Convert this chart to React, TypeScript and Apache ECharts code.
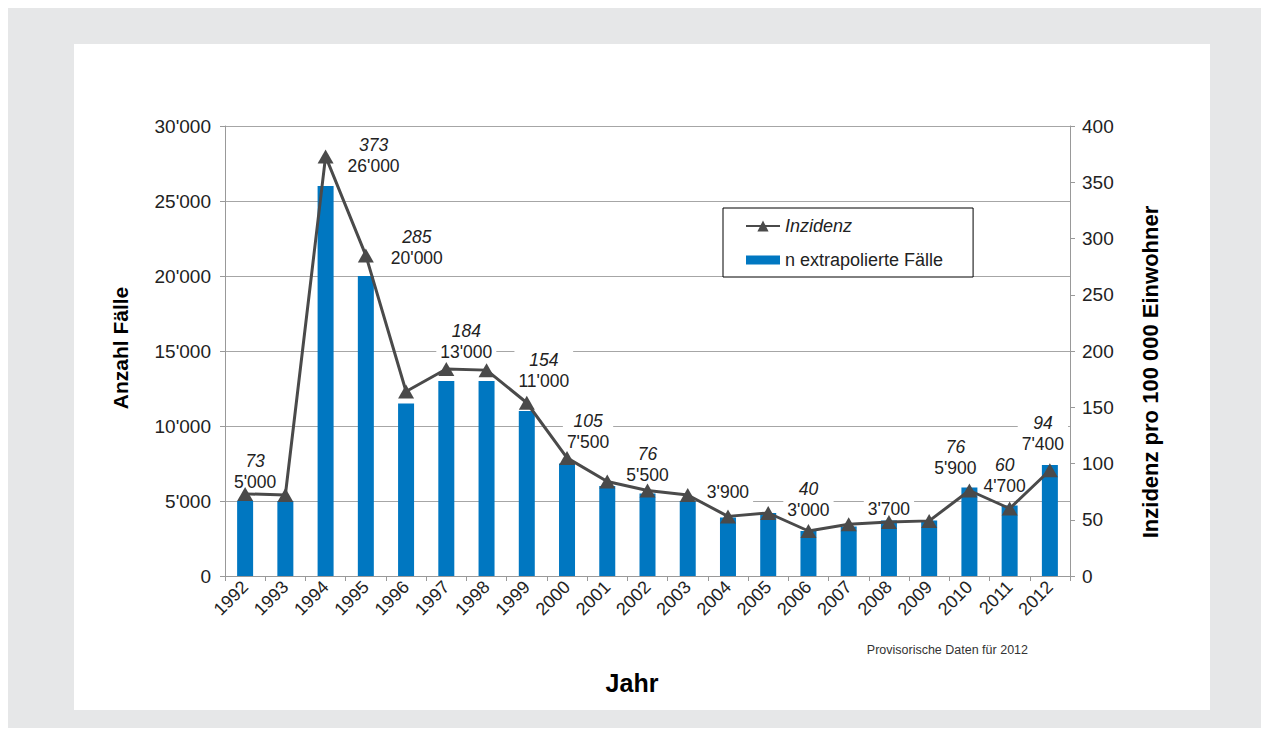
import React, { useEffect, useRef } from "react";
import * as echarts from "echarts";

const years = ["1992","1993","1994","1995","1996","1997","1998","1999","2000","2001","2002","2003","2004","2005","2006","2007","2008","2009","2010","2011","2012"];
const cases = [5000,5000,26000,20000,11500,13000,13000,11000,7500,6000,5500,5000,3900,4200,3000,3300,3700,3700,5900,4700,7400];
const incidence = [73,72,373,285,164,184,183,154,105,84,76,72,53,56,40,46,48,49,76,60,94];
const leftTicks = { min: 0, max: 30000, interval: 5000 };
const rightTicks = { min: 0, max: 400, interval: 50 };

// label placement (style only): year -> [dx, dy, show incidence]
const labelLayout: Record<string, [number, number, boolean]> = {
  "1992": [10, -4, true],
  "1994": [48, -5, true],
  "1995": [51, -3, true],
  "1997": [20, -14, true],
  "1999": [17, -15, true],
  "2000": [21, -6, true],
  "2002": [0, -3, true],
  "2004": [0, -10, false],
  "2006": [0, -6, true],
  "2008": [0, 4, false],
  "2010": [-14, -4, true],
  "2011": [-5, -4, true],
  "2012": [-7, -6, true],
};

const fmt = (v: number) => String(v).replace(/\B(?=(\d{3})+(?!\d))/g, "'");
const FONT = "'Liberation Sans', Arial, sans-serif";
const TXT = "#222";

export default function App() {
  const ref = useRef<HTMLDivElement>(null);
  useEffect(() => {
    if (!ref.current) return;
    const chart = echarts.init(ref.current, undefined, { renderer: "svg" });
    const barData = cases.map((v, i) => {
      const lay = labelLayout[years[i]];
      if (!lay) return { value: v };
      return {
        value: v,
        label: {
          show: true,
          position: "top",
          distance: 5,
          offset: [lay[0], lay[1]],
          formatter: lay[2] ? `{inc|${incidence[i]}}\n{cnt|${fmt(v)}}` : `{cnt|${fmt(v)}}`,
          backgroundColor: "#fff",
          padding: [0, 4, 0, 4],
          rich: {
            inc: { fontStyle: "italic", fontSize: 17.5, lineHeight: 21, color: TXT, fontFamily: FONT },
            cnt: { fontSize: 17.5, lineHeight: 21, color: TXT, fontFamily: FONT },
          },
        },
      };
    });
    chart.setOption({
      animation: false,
      backgroundColor: "#e6e7e8",
      textStyle: { fontFamily: FONT },
      graphic: [
        { type: "rect", z: -10, silent: true, shape: { x: 66, y: 36, width: 1136, height: 666 }, style: { fill: "#ffffff" } },
        { type: "text", x: 112, y: 340, rotation: Math.PI / 2, style: { text: "Anzahl Fälle", fontSize: 21, fontWeight: "bold", fill: "#000", align: "center", verticalAlign: "middle", fontFamily: FONT } },
        { type: "text", x: 1142, y: 364, rotation: Math.PI / 2, style: { text: "Inzidenz pro 100 000 Einwohner", fontSize: 22, fontWeight: "bold", fill: "#000", align: "center", verticalAlign: "middle", fontFamily: FONT } },
        { type: "text", x: 624, y: 675, style: { text: "Jahr", fontSize: 25, fontWeight: "bold", fill: "#000", align: "center", verticalAlign: "middle", fontFamily: FONT } },
        { type: "text", x: 1020, y: 642, style: { text: "Provisorische Daten für 2012", fontSize: 12.5, fill: "#333", align: "right", verticalAlign: "middle", fontFamily: FONT } },
      ],
      grid: { left: 217, top: 118, right: 191, bottom: 152, containLabel: false },
      legend: {
        left: 715,
        top: 200,
        orient: "vertical",
        borderColor: "#000",
        borderWidth: 1,
        backgroundColor: "#fff",
        padding: [9, 30, 8, 22],
        itemWidth: 34,
        itemHeight: 14,
        itemGap: 16,
        textStyle: { fontSize: 18, color: TXT, fontFamily: FONT },
        data: [
          { name: "Inzidenz", textStyle: { fontStyle: "italic" } },
          { name: "n extrapolierte Fälle", icon: "path://M0,0h31v8h-31z" },
        ],
      },
      xAxis: {
        type: "category",
        data: years,
        boundaryGap: true,
        axisLine: { show: true, lineStyle: { color: "#999", width: 1 } },
        axisTick: { show: true, alignWithLabel: false, length: 5, lineStyle: { color: "#999" } },
        axisLabel: { rotate: 45, fontSize: 18, color: TXT, margin: 8, interval: 0, fontFamily: FONT },
      },
      yAxis: [
        {
          type: "value",
          min: leftTicks.min,
          max: leftTicks.max,
          interval: leftTicks.interval,
          axisLine: { show: true, lineStyle: { color: "#999" } },
          axisTick: { show: true, length: 5, lineStyle: { color: "#999" } },
          axisLabel: { fontSize: 19, color: TXT, margin: 14, formatter: (v: number) => fmt(v), fontFamily: FONT },
          splitLine: { show: true, lineStyle: { color: "#a6a6a6", width: 1 } },
        },
        {
          type: "value",
          min: rightTicks.min,
          max: rightTicks.max,
          interval: rightTicks.interval,
          position: "right",
          axisLine: { show: true, lineStyle: { color: "#999" } },
          axisTick: { show: true, length: 5, lineStyle: { color: "#999" } },
          axisLabel: { fontSize: 19, color: TXT, margin: 12, fontFamily: FONT },
          splitLine: { show: false },
        },
      ],
      series: [
        {
          name: "n extrapolierte Fälle",
          type: "bar",
          yAxisIndex: 0,
          data: barData,
          barWidth: 16,
          itemStyle: { color: "#0077c1" },
          z: 2,
        },
        {
          name: "Inzidenz",
          type: "line",
          yAxisIndex: 1,
          data: incidence,
          symbol: "triangle",
          symbolSize: [16, 14],
          lineStyle: { color: "#4a4a4a", width: 3 },
          itemStyle: { color: "#4a4a4a" },
          z: 5,
        },
      ],
    });
    return () => chart.dispose();
  }, []);
  return <div ref={ref} style={{ width: 1253, height: 720 }} />;
}
